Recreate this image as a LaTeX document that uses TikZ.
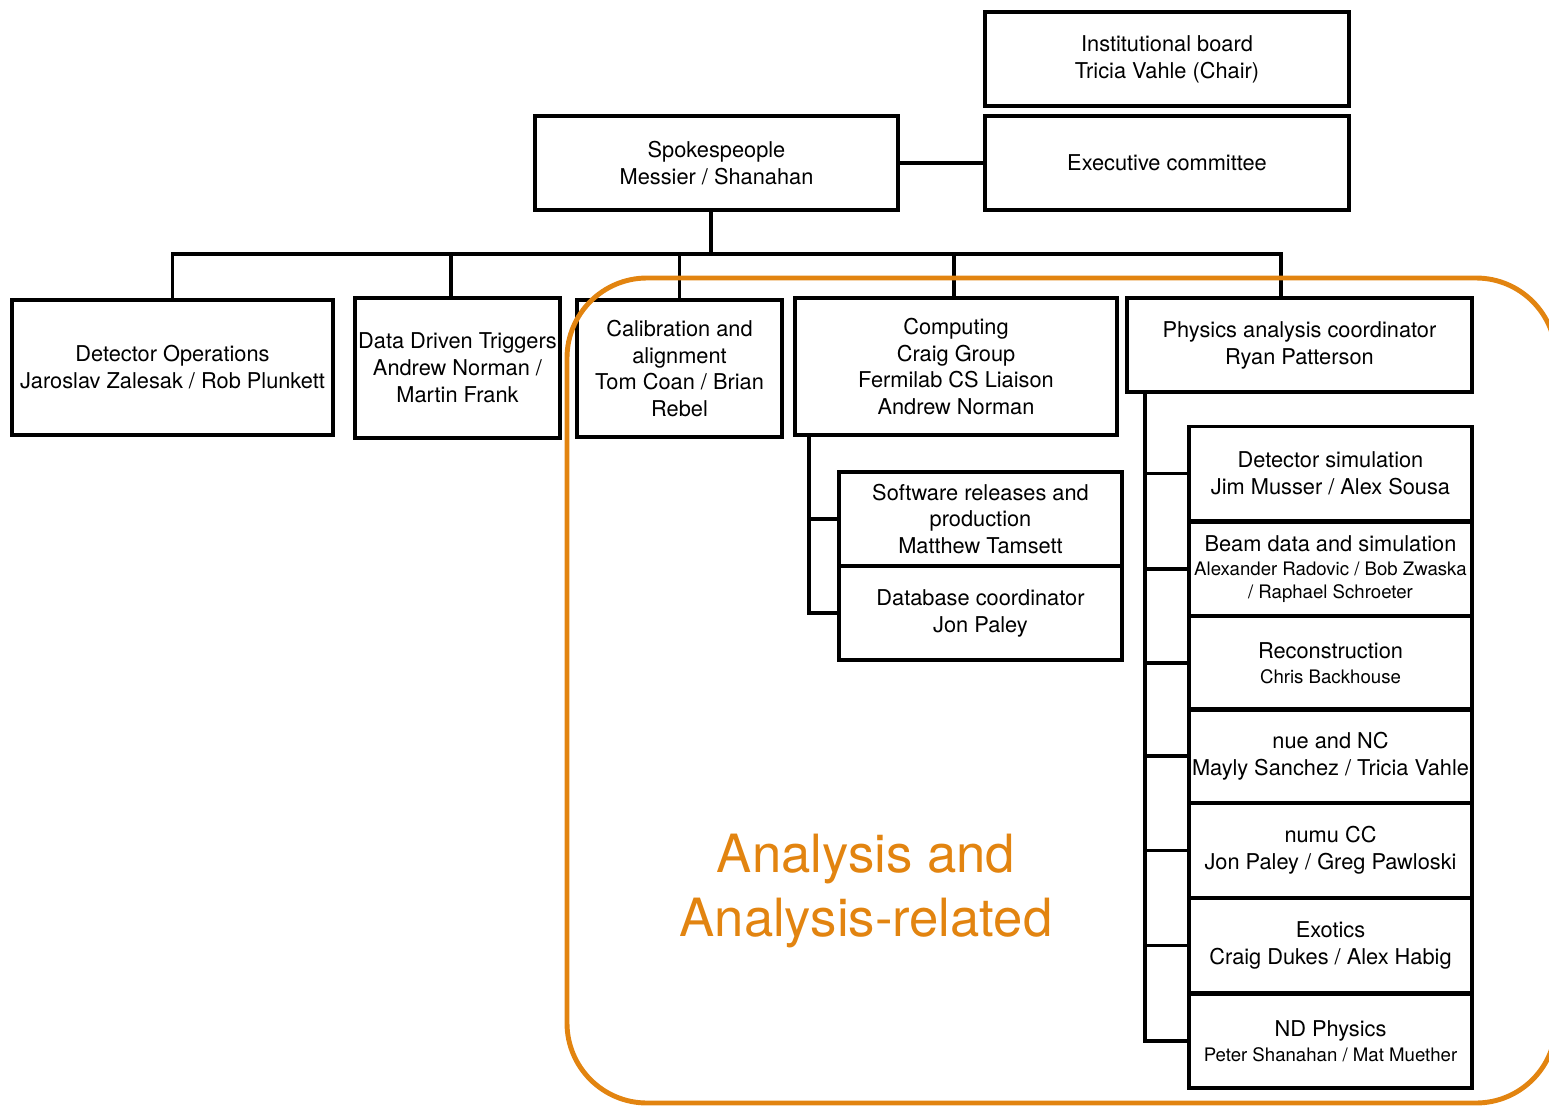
\documentclass[tikz,border=0pt]{standalone}
\usepackage{fontspec}
\setmainfont{TeX Gyre Heros}
\usepackage{tikz}
\definecolor{anaorange}{RGB}{226,132,16}

\begin{document}
\begin{tikzpicture}[x=0.02cm,y=-0.02cm,
  box/.style={draw, line width=1.9pt, align=center, inner sep=0pt,
    font=\fontsize{12.4}{15.3}\selectfont},
  conn/.style={line width=1.9pt},
  smalltext/.style={font=\fontsize{10.6}{13.6}\selectfont}]
 \useasboundingbox (0,0) rectangle (1549,1106);
 % top level
 \node[box, minimum width=7.28cm, minimum height=1.88cm] (board) at (1167,59) {Institutional board\\Tricia Vahle (Chair)};
 \node[box, minimum width=7.28cm, minimum height=1.88cm] (exec) at (1167,163) {Executive committee};
 \node[box, minimum width=7.26cm, minimum height=1.88cm] (spokes) at (716.5,163) {Spokespeople\\Messier / Shanahan};
 \draw[conn] (spokes.east) -- (exec.west);
 % groups
 \node[box, minimum width=6.42cm, minimum height=2.7cm] (detops) at (172.5,367.5) {Detector Operations\\Jaroslav Zalesak / Rob Plunkett};
 \node[box, minimum width=4.1cm, minimum height=2.8cm] (ddt) at (457.5,368) {Data Driven Triggers\\Andrew Norman /\\Martin Frank};
 \node[box, minimum width=4.1cm, minimum height=2.74cm] (calib) at (679.5,368.5) {Calibration and\\alignment\\Tom Coan / Brian\\Rebel};
 \node[box, minimum width=6.44cm, minimum height=2.74cm] (comp) at (956,366.5) {Computing\\Craig Group\\Fermilab CS Liaison\\Andrew Norman};
 \node[box, minimum width=6.9cm, minimum height=1.88cm] (phys) at (1299.5,345) {Physics analysis coordinator\\Ryan Patterson};
 \coordinate (bus) at (711,254);
 \draw[conn] (bus |- spokes.south) -- (bus);
 \draw[conn] (detops.north) |- (bus) -| ([xshift=-0.37cm]phys.north);
 \draw[conn] ([xshift=-0.13cm]ddt.north) -- ([xshift=-0.13cm]ddt.north |- bus);
 \draw[conn] (calib.north) -- (calib.north |- bus);
 \draw[conn] ([xshift=-0.04cm]comp.north) -- ([xshift=-0.04cm]comp.north |- bus);
 % computing
 \node[box, minimum width=5.66cm, minimum height=1.88cm] (swrel) at (980.5,519) {Software releases and\\production\\Matthew Tamsett};
 \node[box, minimum width=5.66cm, minimum height=1.88cm] (db) at (980.5,613) {Database coordinator\\Jon Paley};
 \coordinate (compspine) at (809,435);
 \draw[conn] (compspine) |- (db.west);
 \draw[conn] (swrel.west) -- (swrel.west -| compspine);
 % physics groups
 \node[box, minimum width=5.66cm, minimum height=1.88cm] (detsim) at (1330.5,473.5) {Detector simulation\\Jim Musser / Alex Sousa};
 \node[box, minimum width=5.66cm, minimum height=1.88cm] (beam) at (1330.5,569) {Beam data and simulation\\[-1.6pt]{\fontsize{10.6}{13.6}\selectfont Alexander Radovic / Bob Zwaska}\\[-1.8pt]{\fontsize{10.6}{13.6}\selectfont / Raphael Schroeter}};
 \node[box, minimum width=5.66cm, minimum height=1.88cm] (reco) at (1330.5,663) {Reconstruction\\[-1.2pt]{\fontsize{10.6}{13.6}\selectfont Chris Backhouse}};
 \node[box, minimum width=5.66cm, minimum height=1.88cm] (nue) at (1330.5,756) {nue and NC\\Mayly Sanchez / Tricia Vahle};
 \node[box, minimum width=5.66cm, minimum height=1.88cm] (numu) at (1330.5,850.5) {numu CC\\Jon Paley / Greg Pawloski};
 \node[box, minimum width=5.66cm, minimum height=1.88cm] (exotics) at (1330.5,945.5) {Exotics\\Craig Dukes / Alex Habig};
 \node[box, minimum width=5.66cm, minimum height=1.88cm] (ndphys) at (1330.5,1041) {ND Physics\\[-1.2pt]{\fontsize{10.6}{13.6}\selectfont Peter Shanahan / Mat Muether}};
 \coordinate (physspine) at (1145,392);
 \draw[conn] (physspine) |- (ndphys.west);
 \draw[conn] (detsim.west) -- (detsim.west -| physspine);
 \draw[conn] (beam.west) -- (beam.west -| physspine);
 \draw[conn] (reco.west) -- (reco.west -| physspine);
 \draw[conn] (nue.west) -- (nue.west -| physspine);
 \draw[conn] (numu.west) -- (numu.west -| physspine);
 \draw[conn] (exotics.west) -- (exotics.west -| physspine);
 % analysis region
 \draw[anaorange, line width=2.8pt, rounded corners=1.6cm] (567,278) rectangle (1556,1103);
 \node[text=anaorange, align=center, font=\fontsize{30}{36}\selectfont] (analysis) at (866,891) {Analysis and\\Analysis-related};
\end{tikzpicture}
\end{document}
